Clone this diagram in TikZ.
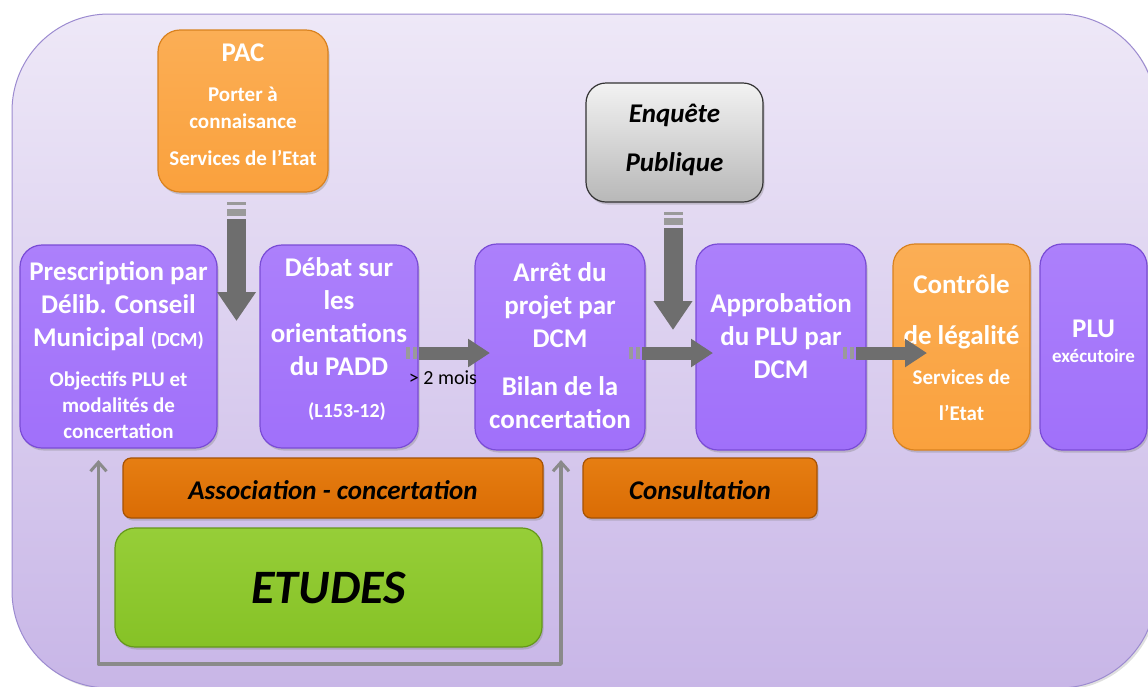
\documentclass[tikz,border=0pt]{standalone}
\usepackage{fontspec}
\setmainfont{Carlito}
\usetikzlibrary{arrows.meta,shadows}
\definecolor{bgtop}{HTML}{EEE8F7}
\definecolor{bgbot}{HTML}{C8B6E7}
\definecolor{bgline}{HTML}{9C8BD0}
\definecolor{pur}{HTML}{A070FA}
\definecolor{purT}{HTML}{AC80FB}
\definecolor{purD}{HTML}{7A4CD6}
\definecolor{org}{HTML}{FAA13D}
\definecolor{orgT}{HTML}{FBAE55}
\definecolor{orgD}{HTML}{D9821F}
\definecolor{dor}{HTML}{DA6C04}
\definecolor{dorT}{HTML}{E67E12}
\definecolor{dorD}{HTML}{A65203}
\definecolor{grn}{HTML}{86C226}
\definecolor{grnT}{HTML}{96CE38}
\definecolor{grnD}{HTML}{64981A}
\definecolor{arr}{HTML}{6E6E6E}
\definecolor{arrL}{HTML}{9A9A9A}
\definecolor{thinc}{HTML}{8A8A8A}
\newcommand\myfa{\fontsize{27}{33}\selectfont}
\newcommand\myfb{\fontsize{21}{26}\selectfont}
\newcommand\myfc{\fontsize{19}{23}\selectfont}
\tikzset{
  x=1pt, y=-1pt,
  shad/.style={drop shadow={opacity=0.35, shadow xshift=1.5pt, shadow yshift=-2.5pt}},
  pbox/.style={shape=rectangle, rounded corners=22pt, draw=purD, line width=1.2pt,
    top color=purT, middle color=pur, bottom color=pur, shad, inner sep=0pt},
  obox/.style={shape=rectangle, rounded corners=22pt, draw=orgD, line width=1.2pt,
    top color=orgT, middle color=org, bottom color=org, shad, inner sep=0pt},
  dbox/.style={shape=rectangle, rounded corners=8pt, draw=dorD, line width=1.2pt,
    top color=dorT, middle color=dor, bottom color=dor, shad, inner sep=0pt},
  gbox/.style={shape=rectangle, rounded corners=20pt, draw=grnD, line width=1.2pt,
    top color=grnT, middle color=grn, bottom color=grn, shad, inner sep=0pt},
  ebox/.style={shape=rectangle, rounded corners=20pt, draw=black!80, line width=1.2pt,
    top color=white!95!black, bottom color=black!28, shad, inner sep=0pt},
  wt/.style={inner sep=0pt, align=center, text=white, font=\bfseries\myfa},
  bt/.style={inner sep=0pt, align=center, text=black, font=\bfseries\itshape\myfa},
  barrV/.style={draw=arr, line width=19pt, -{Triangle[width=37pt,length=29pt]}},
  barrH/.style={draw=arr, line width=13pt, -{Triangle[width=27pt,length=22pt]}},
  thinarr/.style={draw=thinc, line width=3.5pt, line join=round,
    {Straight Barb[length=9pt,width=16pt,line width=3pt]}-{Straight Barb[length=9pt,width=16pt,line width=3pt]}},
}
\begin{document}
\begin{tikzpicture}
\useasboundingbox (0,0) rectangle (1148,686);
% background panel
\path[draw=bgline, line width=1pt, top color=bgtop, bottom color=bgbot,
  rounded corners=97pt, drop shadow={opacity=0.25, shadow xshift=2pt, shadow yshift=-2pt}]
  (12,14) rectangle (1156,688);

% thin grey loop
\coordinate (lt) at (98.5,460);
\coordinate (lb) at (98.5,664);
\coordinate (rb) at (561,664);
\coordinate (rt) at (561,460);
\draw[thinarr] (lt) -- (lb) -- (rb) -- (rt);

% boxes
\node[obox, minimum width=170pt, minimum height=162pt] (pac) at (243,111) {};
\node[ebox, minimum width=177pt, minimum height=119pt] (enq) at (674.5,142.5) {};
\node[pbox, minimum width=197pt, minimum height=203pt] (presc) at (118.5,346.5) {};
\node[pbox, minimum width=158pt, minimum height=203pt] (debat) at (339,346.5) {};
\node[pbox, minimum width=170pt, minimum height=206pt] (arret) at (560,347) {};
\node[pbox, minimum width=170pt, minimum height=206pt] (approb) at (781,347) {};
\node[obox, minimum width=137pt, minimum height=206pt] (ctrl) at (961.5,347) {};
\node[pbox, minimum width=107pt, minimum height=206pt] (plu) at (1093.5,347) {};
\node[dbox, minimum width=420pt, minimum height=60pt] (assoc) at (333,488) {};
\node[dbox, minimum width=234pt, minimum height=60pt] (consult) at (700,488) {};
\node[gbox, minimum width=427pt, minimum height=119pt] (etudes) at (328.5,587.5) {};

% texts
\node[wt] (pacT) at (243,104.5) {PAC\\[7pt]\myfb Porter à\\[-6pt]\myfb connaisance\\[4pt]\myfb Services de l’Etat};
\node[bt, font=\bfseries\itshape\fontsize{27}{34}\selectfont] (enqT) at (674.5,140)
  {Enquête\\[15pt]Publique};
\node[wt] (prescT) at (118.5,350) {Prescription par\\Délib. Conseil\\Municipal {\fontsize{20}{24}\selectfont(DCM)}\\[7pt]\myfb Objectifs PLU et\\[-7pt]\myfb modalités de\\[-7pt]\myfb concertation};
\node[wt] (debatT) at (339,339.5) {Débat sur\\les\\orientations\\du PADD\\[9pt]{\fontsize{20}{24}\selectfont\hspace*{16pt}(L153-12)}};
\node[wt] (arretT) at (560,346) {Arrêt du\\projet par\\DCM\\[15pt]Bilan de la\\concertation};
\node[wt] (approbT) at (781,336) {Approbation\\du PLU par\\DCM};
\node[wt] (ctrlT) at (961.5,348) {Contrôle\\[18pt]de légalité\\[7pt]\myfb Services de\\[3pt]\myfb l’Etat};
\node[wt] (pluT) at (1093.5,341) {PLU\\[-8pt]\myfc exécutoire};
\node[bt] (assocT) at (333,490) {Association - concertation};
\node[bt] (consultT) at (700,490) {Consultation};
\node[bt, font=\bfseries\itshape\fontsize{48}{54}\selectfont] (etudesT) at (328.5,588) {ETUDES};
\node[inner sep=0pt, text=black, font=\fontsize{20}{24}\selectfont] (mois) at (443,378) {> 2 mois};

% block arrows: PAC down
\fill[arrL] (227,202) rectangle (246,205);
\fill[arrL] (227,209) rectangle (246,216);
\coordinate (pacA) at (236.5,219);
\coordinate (pacTip) at (236.5,321);
\draw[barrV] (pacA) -- (pacTip);
% Enquete down
\fill[arrL] (663.5,212) rectangle (682.5,215);
\fill[arrL] (663.5,218) rectangle (682.5,225);
\coordinate (enqA) at (673,228);
\coordinate (enqTip) at (673,330);
\draw[barrV] (enqA) -- (enqTip);
% horizontal arrows
\fill[arrL] (406,347) rectangle (410,359);
\fill[arrL] (413,347) rectangle (417,359);
\coordinate (h1a) at (419,353);
\coordinate (h1b) at (490,353);
\draw[barrH] (h1a) -- (h1b);
\fill[arrL] (629,347) rectangle (633,359);
\fill[arrL] (636,347) rectangle (640,359);
\coordinate (h2a) at (642,353);
\coordinate (h2b) at (713,353);
\draw[barrH] (h2a) -- (h2b);
\fill[arrL] (843,347) rectangle (847,359);
\fill[arrL] (850,347) rectangle (854,359);
\coordinate (h3a) at (856,353);
\coordinate (h3b) at (927,353);
\draw[barrH] (h3a) -- (h3b);
\end{tikzpicture}
\end{document}
